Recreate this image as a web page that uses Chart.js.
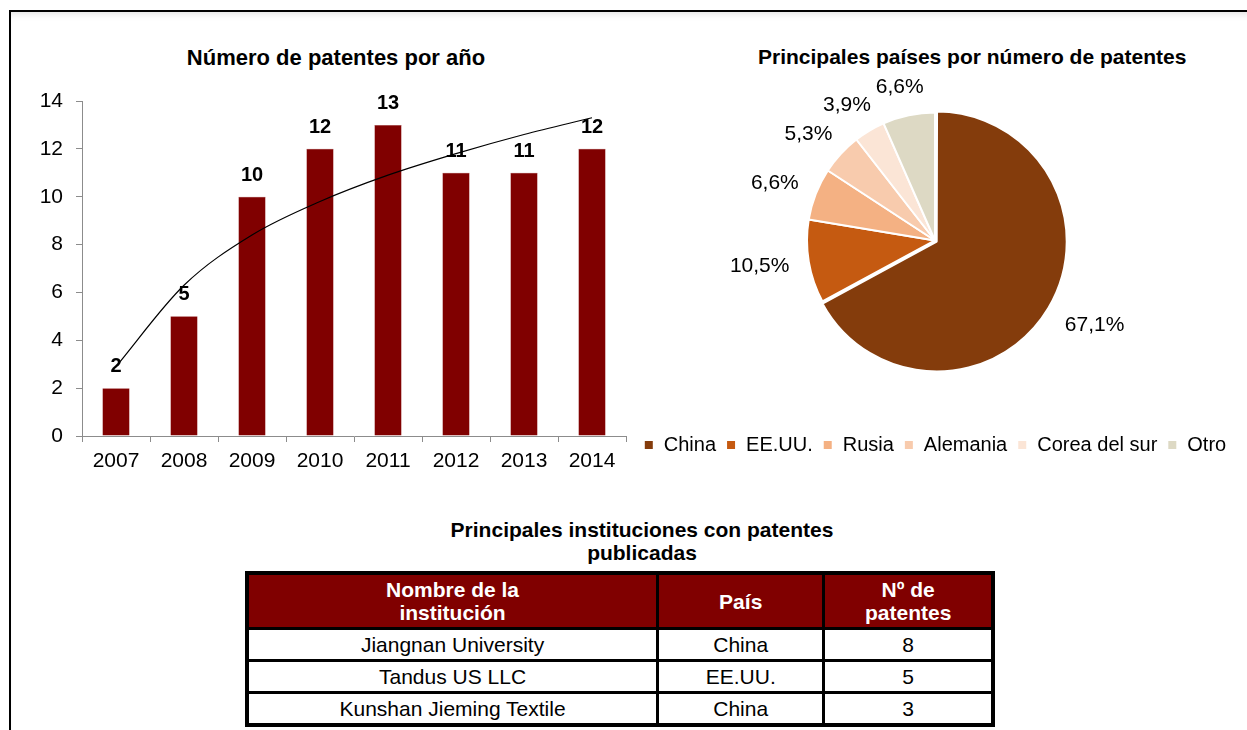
<!DOCTYPE html>
<html>
<head>
<meta charset="utf-8">
<script src="https://cdn.jsdelivr.net/npm/chart.js@4.4.1/dist/chart.umd.min.js"></script>
<style>
  body { margin: 0; width: 1247px; height: 730px; overflow: hidden; background: #fff; font-family: "Liberation Sans", Arial, sans-serif; }
  .frame { position: absolute; left: 9px; top: 10px; width: 1300px; height: 800px; border-top: 2px solid #000; border-left: 2px solid #000; box-shadow: inset 0 7px 8px -6px rgba(0,0,0,0.15); }
  .box { position: absolute; }
  .title { position: absolute; font-weight: bold; font-size: 21px; color: #000; text-align: center; white-space: nowrap; }
  table { position: absolute; left: 245px; top: 571px; width: 750px; border-collapse: collapse; border: 4px solid #000; font-size: 21px; }
  td, th { border: 3px solid #000; text-align: center; padding: 0; }
  th { background: #800000; color: #fff; height: 52px; line-height: 23px; font-weight: bold; }
  td { height: 29px; line-height: 29px; color: #000; }
</style>
</head>
<body>
<div class="frame"></div>

<div class="title" style="left:136px; top:45px; width:400px; font-size:22px;">Número de patentes por año</div>
<div class="title" style="left:758px; top:45px; width:400px;">Principales países por número de patentes</div>
<div class="title" style="left:342px; top:518px; width:600px; line-height:23px;">Principales instituciones con patentes<br>publicadas</div>

<div class="box" style="left:0; top:0; width:640px; height:480px;"><canvas id="barChart"></canvas></div>
<div class="box" style="left:630px; top:0; width:617px; height:480px;"><canvas id="pieChart"></canvas></div>

<table id="instTable"></table>

<script>
// Número de patentes por año
const years = ['2007', '2008', '2009', '2010', '2011', '2012', '2013', '2014'];
const patents = [2, 5, 10, 12, 13, 11, 11, 12];
// trend line (log) at each year
const trend = [2.9, 6.3, 8.4, 9.8, 10.9, 11.8, 12.6, 13.3];
const yTicks = [0, 2, 4, 6, 8, 10, 12, 14];

// Principales países
const countries = ['China', 'EE.UU.', 'Rusia', 'Alemania', 'Corea del sur', 'Otro'];
const countryPatents = [51, 8, 5, 4, 3, 5];
const countryColors = ['#843c0c', '#c55a11', '#f4b183', '#f8cbad', '#fbe5d6', '#ddd9c4'];
const countryOffsets = [8, 0, 0, 0, 0, 0];

// Principales instituciones
const tableHeader = ['Nombre de la<br>institución', 'País', 'Nº de<br>patentes'];
const institutions = ['Jiangnan University', 'Tandus US LLC', 'Kunshan Jieming Textile'];
const instCountries = ['China', 'EE.UU.', 'China'];
const instPatents = [8, 5, 3];

const FONT = '"Liberation Sans", Arial, sans-serif';
const axisGray = '#8c8c8c';

// table
const table = document.getElementById('instTable');
let html = '<tr>';
tableHeader.forEach((h, i) => {
  const w = [416, 166, 168][i];
  html += `<th style="width:${w}px">${h}</th>`;
});
html += '</tr>';
institutions.forEach((name, i) => {
  html += `<tr><td>${name}</td><td>${instCountries[i]}</td><td>${instPatents[i]}</td></tr>`;
});
table.innerHTML = html;

// labels on top of bars
const barLabels = {
  id: 'barLabels',
  afterDatasetsDraw(chart) {
    const ctx = chart.ctx;
    const meta = chart.getDatasetMeta(0);
    ctx.save();
    ctx.font = 'bold 20px ' + FONT;
    ctx.fillStyle = '#000';
    ctx.textAlign = 'center';
    ctx.textBaseline = 'alphabetic';
    meta.data.forEach((bar, i) => {
      ctx.fillText(String(patents[i]), bar.x, bar.y - 16);
    });
    ctx.restore();
  }
};

new Chart(document.getElementById('barChart'), {
  data: {
    labels: years,
    datasets: [
      {
        type: 'bar',
        data: patents,
        backgroundColor: '#800000',
        borderColor: '#9a3030',
        borderWidth: 0.5,
        barPercentage: 0.4,
        categoryPercentage: 1,
        order: 2,
      },
      {
        type: 'line',
        data: trend,
        borderColor: '#000',
        borderWidth: 1.2,
        pointRadius: 0,
        fill: false,
        cubicInterpolationMode: 'monotone',
        order: 1,
      },
    ],
  },
  options: {
    responsive: true,
    maintainAspectRatio: false,
    animation: false,
    layout: { padding: { top: 101, right: 14, left: 0, bottom: 0 } },
    plugins: { legend: { display: false }, tooltip: { enabled: false } },
    scales: {
      x: {
        offset: true,
        grid: { offset: true, drawOnChartArea: false, tickLength: 6, color: axisGray },
        border: { color: axisGray },
        ticks: { color: '#000', font: { family: FONT, size: 21 }, padding: 7 },
        afterFit: (s) => { s.height = 44; },
      },
      y: {
        min: 0,
        max: 14,
        afterBuildTicks: (s) => { s.ticks = yTicks.map((v) => ({ value: v })); },
        grid: { drawOnChartArea: false, tickLength: 6, color: axisGray },
        border: { color: axisGray },
        ticks: { color: '#000', font: { family: FONT, size: 21 }, padding: 13 },
        afterFit: (s) => { s.width = 82; },
      },
    },
  },
  plugins: [barLabels],
});

// percentage labels outside the slices
const pieLabels = {
  id: 'pieLabels',
  afterDatasetsDraw(chart) {
    const ctx = chart.ctx;
    const meta = chart.getDatasetMeta(0);
    const total = countryPatents.reduce((a, b) => a + b, 0);
    ctx.save();
    ctx.font = '21px ' + FONT;
    ctx.fillStyle = '#000';
    ctx.textAlign = 'center';
    ctx.textBaseline = 'middle';
    meta.data.forEach((arc, i) => {
      const p = arc.getProps(['x', 'y', 'startAngle', 'endAngle', 'outerRadius'], true);
      const mid = (p.startAngle + p.endAngle) / 2;
      const cos = Math.cos(mid);
      const sin = Math.sin(mid);
      const txt = (countryPatents[i] / total * 100).toFixed(1).replace('.', ',') + '%';
      const w = ctx.measureText(txt).width;
      const r = p.outerRadius + countryOffsets[i] + 20;
      const cx = p.x + cos * r + cos * w / 2;
      const cy = p.y + sin * r + sin * 9;
      ctx.fillText(txt, cx, cy);
    });
    ctx.restore();
  }
};

new Chart(document.getElementById('pieChart'), {
  type: 'pie',
  data: {
    labels: countries,
    datasets: [{
      data: countryPatents,
      backgroundColor: countryColors,
      borderColor: '#fff',
      borderWidth: 2,
      offset: countryOffsets,
    }],
  },
  options: {
    responsive: true,
    maintainAspectRatio: false,
    animation: false,
    radius: 128,
    layout: { padding: { top: 56, right: 7, left: 0, bottom: 15 } },
    plugins: {
      tooltip: { enabled: false },
      legend: {
        position: 'bottom',
        labels: {
          color: '#000',
          font: { family: FONT, size: 20 },
          boxWidth: 10,
          boxHeight: 10,
          padding: 10,
        },
      },
    },
  },
  plugins: [pieLabels],
});
</script>
</body>
</html>
